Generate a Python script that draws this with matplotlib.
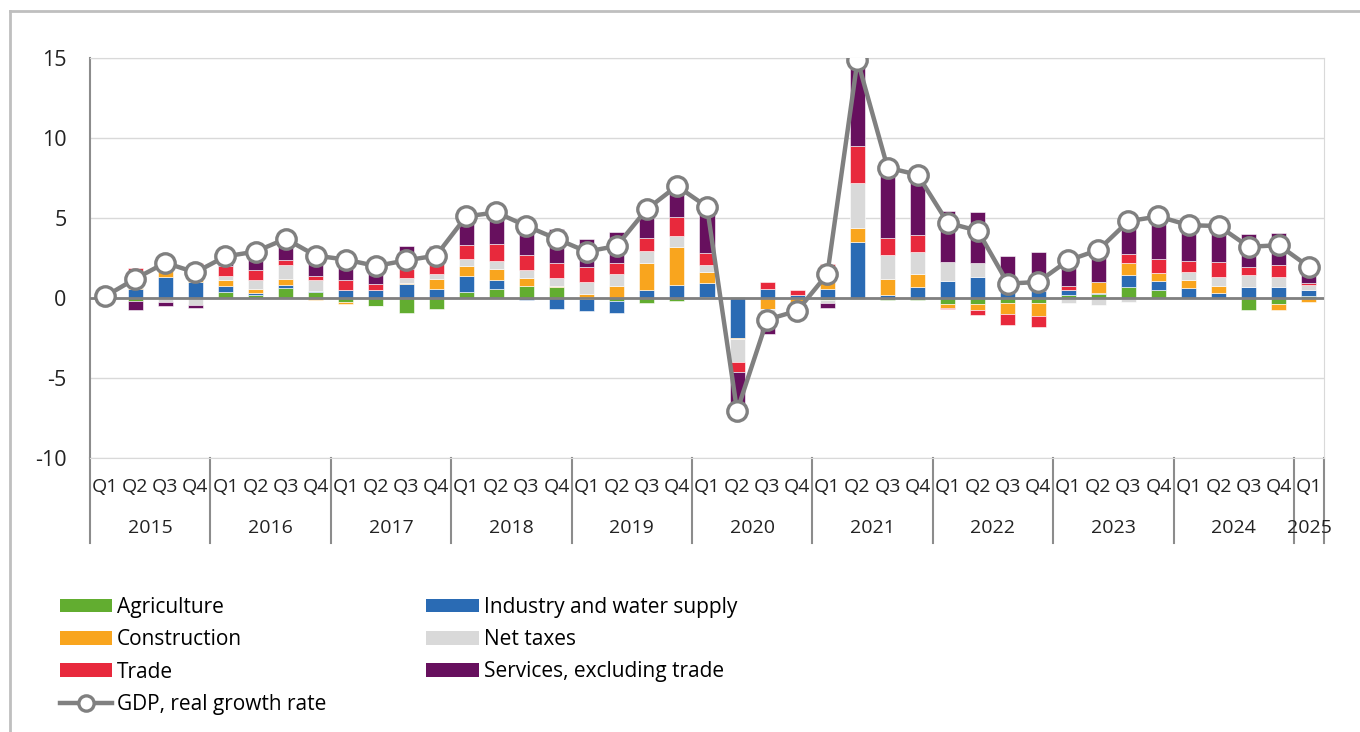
import numpy as np
import matplotlib
matplotlib.use("Agg")
import matplotlib.pyplot as plt
from matplotlib.lines import Line2D
from matplotlib.patches import Patch

plt.rcParams['font.family'] = ['Open Sans', 'DejaVu Sans']
plt.rcParams['axes.unicode_minus'] = False

# DATA - contributions to GDP growth, percentage points
years = ["2015", "2016", "2017", "2018", "2019", "2020", "2021", "2022", "2023", "2024", "2025"]
quarters = ["Q1", "Q2", "Q3", "Q4"] * 10 + ["Q1"]

agriculture = [0.0, -0.17, 0.0, 0.0, 0.35, 0.2, 0.65, 0.38, -0.27, -0.48, -0.94, -0.69,
               0.35, 0.55, 0.78, 0.67, -0.05, -0.2, -0.3, -0.2, 0.05, 0.05, 0.03, 0.0,
               -0.15, -0.05, -0.1, -0.1, -0.38, -0.38, -0.33, -0.3, 0.2, 0.25, 0.7, 0.5,
               0.0, 0.0, -0.75, -0.38, 0.15]
industry = [0.3, 0.55, 1.33, 1.0, 0.4, 0.1, 0.15, 0.08, 0.5, 0.48, 0.9, 0.56,
            1.05, 0.6, -0.15, -0.7, -0.75, -0.73, 0.48, 0.83, 0.9, -2.5, 0.52, 0.2,
            0.56, 3.48, 0.2, 0.7, 1.08, 1.3, 0.35, 0.45, 0.3, 0.05, 0.75, 0.58,
            0.6, 0.33, 0.71, 0.67, 0.38]
construction = [0.0, 0.1, 0.4, 0.5, 0.35, 0.25, 0.4, -0.15, -0.08, -0.05, 0.05, 0.62,
                0.6, 0.65, 0.45, 0.1, 0.27, 0.73, 1.7, 2.33, 0.7, -0.05, -0.7, -0.3,
                0.6, 0.9, 1.0, 0.83, -0.25, -0.35, -0.7, -0.83, 0.0, 0.7, 0.73, 0.46,
                0.54, 0.4, 0.0, -0.35, -0.25]
net_taxes = [0.0, 0.45, -0.25, -0.46, 0.3, 0.6, 0.85, 0.65, 0.0, 0.0, 0.33, 0.33,
             0.45, 0.5, 0.5, 0.48, 0.73, 0.77, 0.77, 0.73, 0.42, -1.45, -0.35, -0.1,
             -0.15, 2.8, 1.46, 1.35, 1.19, 0.88, 0.0, 0.0, -0.33, -0.42, -0.23, 0.0,
             0.46, 0.58, 0.71, 0.63, 0.31]
trade = [0.2, 0.8, 0.3, 0.7, 0.6, 0.6, 0.3, 0.25, 0.6, 0.42, 0.55, 0.65,
         0.85, 1.05, 0.95, 0.94, 0.92, 0.69, 0.77, 1.2, 0.73, -0.62, 0.46, 0.3,
         0.95, 2.33, 1.12, 1.04, -0.05, -0.33, -0.65, -0.7, 0.27, 0.0, 0.6, 0.9,
         0.71, 0.92, 0.5, 0.77, 0.1]
services = [-0.4, -0.6, -0.25, -0.19, 0.4, 0.8, 1.1, 0.9, 0.9, 0.8, 1.45, 1.1,
            1.7, 1.9, 1.7, 2.15, 1.75, 1.95, 1.5, 1.6, 2.9, -2.0, -1.2, -0.2,
            -0.3, 5.2, 4.2, 3.7, 3.15, 3.2, 2.25, 2.45, 1.1, 1.7, 1.8, 2.5,
            2.2, 2.2, 2.1, 2.0, 0.6]
gdp = [0.1, 1.2, 2.2, 1.6, 2.6, 2.9, 3.7, 2.65, 2.4, 2.0, 2.35, 2.65,
       5.1, 5.35, 4.5, 3.7, 2.9, 3.25, 5.55, 7.0, 5.7, -7.05, -1.35, -0.8,
       1.5, 14.85, 8.15, 7.7, 4.7, 4.2, 0.9, 1.0, 2.35, 3.0, 4.8, 5.1,
       4.55, 4.5, 3.2, 3.3, 1.95]

series = [
    ("Agriculture", agriculture, "#62AD30"),
    ("Industry and water supply", industry, "#2A6BB4"),
    ("Construction", construction, "#F9A51E"),
    ("Net taxes", net_taxes, "#D9D9D9"),
    ("Trade", trade, "#E8293C"),
    ("Services, excluding trade", services, "#67105E"),
]

fig = plt.figure(figsize=(13.6, 7.32), dpi=100)
ax = fig.add_axes([90 / 1360, 1 - 458 / 732, 1234 / 1360, 400 / 732])

x = np.arange(len(gdp))
pos_base = np.zeros(len(x))
neg_base = np.zeros(len(x))
for name, vals, col in series:
    v = np.array(vals)
    bottom = np.where(v >= 0, pos_base, neg_base)
    ax.bar(x, v, 0.5, bottom=bottom, color=col, edgecolor="white", linewidth=0.4, zorder=2)
    pos_base += np.where(v >= 0, v, 0)
    neg_base += np.where(v < 0, v, 0)

ax.axhline(0, color="#808080", lw=2, zorder=3)
ax.plot(x, gdp, color="#808080", lw=3.2, marker="o", markersize=14,
        markerfacecolor="white", markeredgecolor="#808080", markeredgewidth=2.4, zorder=4)

ax.set_xlim(-0.5, len(x) - 0.5)
ax.set_ylim(-10, 15)
ax.set_yticks([-10, -5, 0, 5, 10, 15])
ax.yaxis.grid(True, color="#D9D9D9", lw=1)
ax.set_axisbelow(True)
ax.tick_params(axis="y", length=0, pad=17, labelsize=15.5, colors="#222222")
ax.set_xticks([])
for s in ["top", "right", "bottom"]:
    ax.spines[s].set_color("#D9D9D9")
ax.spines["left"].set_color("#8C8C8C")
ax.spines["left"].set_linewidth(1.5)

# category labels: quarters and years
tr = ax.get_xaxis_transform()
for i, q in enumerate(quarters):
    ax.text(i, -0.072, q, transform=tr, ha="center", va="center", fontsize=14, color="#222222")
for k, yr in enumerate(years):
    start = k * 4
    end = min(start + 3, len(x) - 1)
    ax.text((start + end) / 2, -0.175, yr, transform=tr, ha="center", va="center",
            fontsize=14, color="#222222")
for b in list(np.arange(-0.5, len(x), 4)) + [len(x) - 0.5]:
    ax.add_line(Line2D([b, b], [0, -0.2125], transform=tr, color="#8C8C8C", lw=1.5, clip_on=False))

# outer chart frame
fig.add_artist(Line2D([10 / 1360, 10 / 1360], [0, 1 - 11 / 732], transform=fig.transFigure, color="#BFBFBF", lw=2))
fig.add_artist(Line2D([10 / 1360, 1], [1 - 11 / 732, 1 - 11 / 732], transform=fig.transFigure, color="#BFBFBF", lw=2))

# legend
handles = {name: Patch(facecolor=col, edgecolor="none") for name, _, col in series}
gdp_handle = Line2D([], [], color="#808080", lw=3.2, marker="o", markersize=11,
                    markerfacecolor="white", markeredgecolor="#808080", markeredgewidth=2.4)
order = ["Agriculture", "Construction", "Trade", None, "Industry and water supply", "Net taxes",
         "Services, excluding trade"]
hs, ls = [], []
for n in order:
    if n is None:
        hs.append(gdp_handle)
        ls.append("GDP, real growth rate")
    else:
        hs.append(handles[n])
        ls.append(n)
fig.legend(hs, ls, loc="upper left", bbox_to_anchor=(60 / 1360, 1 - 597 / 732), ncol=2,
           frameon=False, fontsize=15, handlelength=2.5, handleheight=0.63, handletextpad=0.24,
           columnspacing=4.8, labelspacing=0.54, borderaxespad=0, borderpad=0)

fig.savefig("out.png", dpi=100)
